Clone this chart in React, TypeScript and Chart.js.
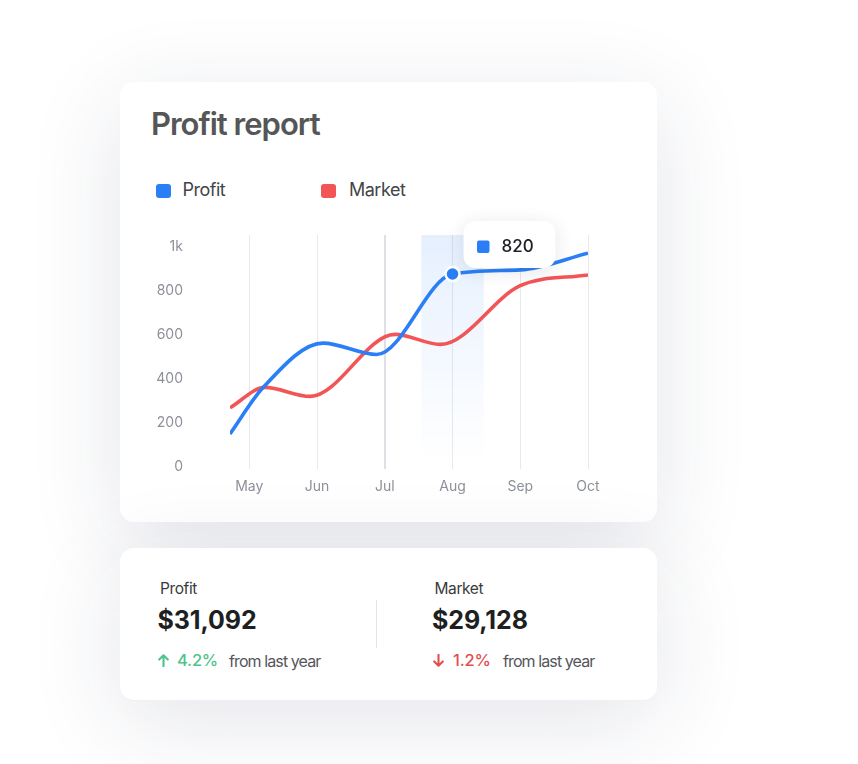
import React, { useEffect, useRef } from "react";
import { Chart, registerables } from "chart.js";

Chart.register(...registerables);

// ---- data ----
const months = ["May", "Jun", "Jul", "Aug", "Sep", "Oct"];
const yTickValues = [0, 200, 400, 600, 800, 1000];
const yTickLabels = ["0", "200", "400", "600", "800", "1k"];
const profitX = [-0.285, 0.2, 1.09, 1.88, 3, 4, 5];
const profitY = [149, 359, 563, 511, 878, 897, 973];
const marketX = [-0.285, 0.23, 0.9, 2.15, 2.82, 4, 5];
const marketY = [268, 361, 320, 603, 557, 825, 874];
const seriesNames = ["Profit", "Market"];
const seriesColors = ["#2b7ff6", "#f25556"];
const highlightIndex = 4;
const tooltipValue = "820";
const summaryLabels = ["Profit", "Market"];
const summaryValues = ["$31,092", "$29,128"];
const summaryChanges = ["4.2%", "1.2%"];
const summaryUp = [true, false];
const summaryNote = "from last year";

const FONT = "Inter, 'Noto Sans', sans-serif";

const highlightPlugin = {
  id: "highlight",
  beforeDatasetsDraw(chart: any) {
    const { ctx, chartArea, scales } = chart;
    const xs = scales.x;
    const cx = xs.getPixelForValue(profitX[highlightIndex]);
    const half = (xs.getPixelForValue(1) - xs.getPixelForValue(0)) * 0.46;
    const g = ctx.createLinearGradient(0, chartArea.top, 0, chartArea.bottom - 4);
    g.addColorStop(0, "rgba(43,127,246,0.12)");
    g.addColorStop(0.5, "rgba(43,127,246,0.055)");
    g.addColorStop(1, "rgba(43,127,246,0)");
    ctx.save();
    ctx.fillStyle = g;
    ctx.fillRect(cx - half, chartArea.top, half * 2, chartArea.bottom - chartArea.top);
    ctx.restore();
  },
  afterDatasetsDraw(chart: any) {
    const pt = chart.getDatasetMeta(0).data[highlightIndex];
    const { x, y } = pt;
    const ctx = chart.ctx;
    const bx = x + 11;
    const by = y - 53;
    const bw = 92;
    const bh = 47;
    ctx.save();
    ctx.shadowColor = "rgba(30,40,70,0.12)";
    ctx.shadowBlur = 18;
    ctx.shadowOffsetY = 3;
    ctx.fillStyle = "#ffffff";
    ctx.beginPath();
    ctx.roundRect(bx, by, bw, bh, 12);
    ctx.fill();
    ctx.restore();
    ctx.save();
    ctx.fillStyle = seriesColors[0];
    ctx.beginPath();
    ctx.roundRect(bx + 13.5, by + 19.5, 12.5, 12.5, 2);
    ctx.fill();
    ctx.fillStyle = "#1f2024";
    ctx.font = "500 17px " + FONT;
    ctx.textBaseline = "middle";
    ctx.textAlign = "left";
    ctx.fillText(tooltipValue, bx + 38, by + 26);
    ctx.restore();
  },
};

function Txt(props: {
  x: number;
  base: number;
  size: number;
  weight?: number;
  color: string;
  ls?: number;
  children: React.ReactNode;
}) {
  const { x, base, size, weight = 400, color, ls = 0, children } = props;
  return (
    <div
      style={{
        position: "absolute",
        left: x,
        top: base - 0.864 * size,
        fontSize: size,
        lineHeight: 1,
        fontWeight: weight,
        color,
        letterSpacing: ls,
        whiteSpace: "nowrap",
        fontFamily: FONT,
      }}
    >
      {children}
    </div>
  );
}

function Arrow(props: { x: number; y: number; up: boolean; color: string }) {
  const { x, y, up, color } = props;
  return (
    <svg
      width={11}
      height={13}
      viewBox="0 0 11 13"
      style={{ position: "absolute", left: x, top: y }}
    >
      {up ? (
        <path d="M5.5 12.2V1.5M1.2 5.6L5.5 1.3L9.8 5.6" stroke={color} strokeWidth={2.1} fill="none" strokeLinecap="round" strokeLinejoin="round" />
      ) : (
        <path d="M5.5 0.8V11.5M1.2 7.4L5.5 11.7L9.8 7.4" stroke={color} strokeWidth={2.1} fill="none" strokeLinecap="round" strokeLinejoin="round" />
      )}
    </svg>
  );
}

export default function App() {
  const canvasRef = useRef<HTMLCanvasElement>(null);

  useEffect(() => {
    document.body.style.margin = "0";
    document.body.style.background = "#ffffff";
    const canvas = canvasRef.current!;
    const chart = new Chart(canvas, {
      type: "line",
      data: {
        datasets: [
          {
            label: seriesNames[0],
            data: profitX.map((x, i) => ({ x, y: profitY[i] })),
            borderColor: seriesColors[0],
            backgroundColor: seriesColors[0],
            borderWidth: 3.6,
            cubicInterpolationMode: "monotone",
            pointRadius: (c: any) => (c.dataIndex === highlightIndex ? 7 : 0),
            pointBorderColor: "#ffffff",
            pointBorderWidth: 2.5,
            pointBackgroundColor: seriesColors[0],
            order: 0,
          },
          {
            label: seriesNames[1],
            data: marketX.map((x, i) => ({ x, y: marketY[i] })),
            borderColor: seriesColors[1],
            backgroundColor: seriesColors[1],
            borderWidth: 3.6,
            cubicInterpolationMode: "monotone",
            pointRadius: 0,
            order: 1,
          },
        ],
      } as any,
      options: {
        animation: false,
        responsive: false,
        events: [],
        layout: { padding: { top: 30, right: 22, bottom: 16, left: 0 } },
        plugins: {
          legend: { display: false },
          tooltip: { enabled: false },
        },
        scales: {
          x: {
            type: "linear",
            min: -0.285,
            max: 5,
            border: { display: false },
            grid: {
              drawTicks: false,
              color: (c: any) => (c.index === 2 ? "#dfe0e5" : "#e8e9ed"),
              lineWidth: (c: any) => (c.index === 2 ? 2 : 1),
            },
            ticks: {
              padding: 9,
              color: "#8d9099",
              font: { family: FONT, size: 14 },
              callback: (v: any) => months[v as number] ?? "",
            },
            afterBuildTicks: (s: any) => {
              s.ticks = months.map((_, i) => ({ value: i }));
            },
            afterFit: (s: any) => {
              s.paddingLeft = 0;
              s.paddingRight = 0;
            },
          },
          y: {
            min: -12,
            max: 1056,
            border: { display: false },
            grid: { display: false, drawTicks: false },
            ticks: {
              padding: 47,
              color: "#8d9099",
              font: { family: FONT, size: 14 },
              callback: (v: any) => {
                const i = yTickValues.indexOf(v as number);
                return i >= 0 ? yTickLabels[i] : "";
              },
            },
            afterBuildTicks: (s: any) => {
              s.ticks = yTickValues.map((v) => ({ value: v }));
            },
            afterFit: (s: any) => {
              s.width = 90;
              s.paddingTop = 0;
              s.paddingBottom = 0;
            },
          },
        },
      } as any,
      plugins: [highlightPlugin],
    });
    return () => chart.destroy();
  }, []);

  const cardStyle: React.CSSProperties = {
    position: "absolute",
    left: 120,
    width: 537,
    background: "#ffffff",
    borderRadius: 14,
    boxShadow: "0 20px 95px rgba(35,45,85,0.12)",
  };

  return (
    <div style={{ position: "relative", width: 858, height: 764, overflow: "hidden", background: "#fff", fontFamily: FONT }}>
      <div style={{ ...cardStyle, top: 82, height: 440 }} />
      <div style={{ ...cardStyle, top: 548, height: 152, borderBottom: "1px solid #eef0f6" }} />

      <Txt x={151} base={135} size={31} weight={600} color="#565656" ls={-1}>
        Profit report
      </Txt>

      {/* legend */}
      <div style={{ position: "absolute", left: 155.5, top: 183.5, width: 15, height: 14, borderRadius: 3, background: seriesColors[0] }} />
      <Txt x={182.5} base={197} size={18} color="#444448" ls={-0.5}>
        {seriesNames[0]}
      </Txt>
      <div style={{ position: "absolute", left: 320.5, top: 183.5, width: 15, height: 14, borderRadius: 3, background: seriesColors[1] }} />
      <Txt x={349} base={197} size={18} color="#444448" ls={-0.5}>
        {seriesNames[1]}
      </Txt>

      <canvas
        ref={canvasRef}
        width={470}
        height={315}
        style={{ position: "absolute", left: 140, top: 205, width: 470, height: 315 }}
      />

      {/* summary */}
      <div style={{ position: "absolute", left: 376, top: 600, width: 1, height: 48, background: "#e4e5e9" }} />
      {[0, 1].map((i) => {
        const x0 = i === 0 ? 157.5 : 432;
        const c = summaryUp[i] ? "#4fc38c" : "#e24f4f";
        return (
          <React.Fragment key={i}>
            <Txt x={x0 + 2.5} base={594} size={15.5} color="#3a3a3d" ls={-0.4}>
              {summaryLabels[i]}
            </Txt>
            <Txt x={x0} base={630} size={25} weight={700} color="#1e1f22" ls={-0.1}>
              {summaryValues[i]}
            </Txt>
            <Arrow x={x0 + 0.5} y={654} up={summaryUp[i]} color={c} />
            <Txt x={x0 + (i === 0 ? 19.5 : 21)} base={666.5} size={16.5} weight={500} color={c} ls={-0.2}>
              {summaryChanges[i]}
            </Txt>
            <Txt x={x0 + (i === 0 ? 71.5 : 71)} base={666.5} size={16} color="#55565b" ls={-0.9}>
              {summaryNote}
            </Txt>
          </React.Fragment>
        );
      })}
    </div>
  );
}
